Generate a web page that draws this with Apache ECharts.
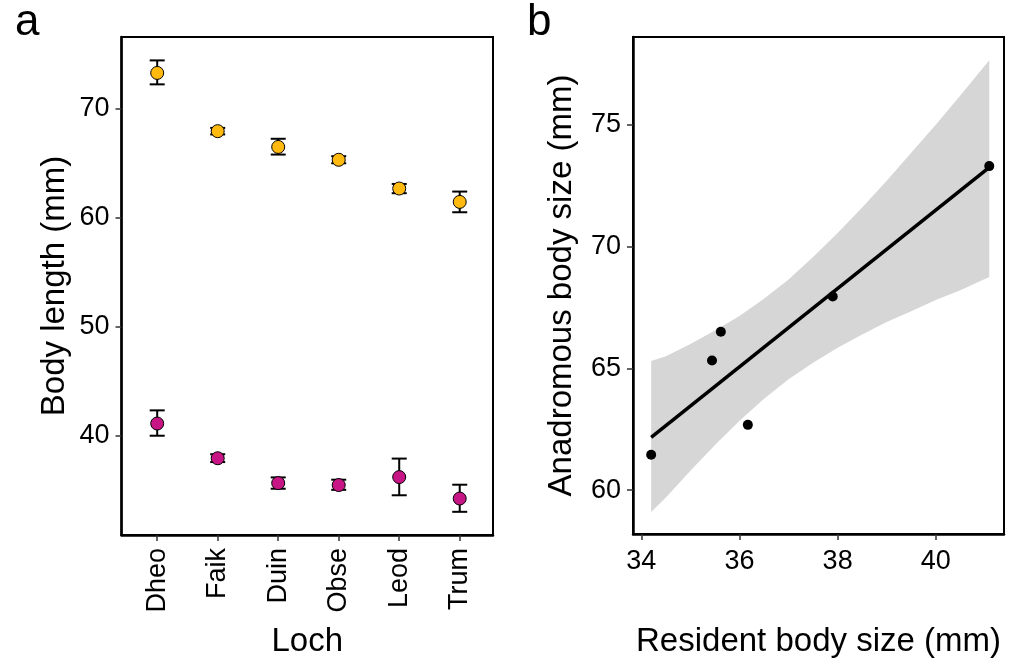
<!DOCTYPE html>
<html>
<head>
<meta charset="utf-8">
<script src="https://cdn.jsdelivr.net/npm/echarts@6/dist/echarts.min.js"></script>
<style>
html,body{margin:0;padding:0;background:#fff;}
#chart{width:1009px;height:663px;}
</style>
</head>
<body>
<div id="chart"></div>
<script>
// ---------- data ----------
const lochs = ['Dheo', 'Faik', 'Duin', 'Obse', 'Leod', 'Trum'];
const lochPos = [1, 2, 3, 4, 5, 6];
// anadromous (orange) means and error bar ends
const anadMean = [73.3, 67.95, 66.5, 65.32, 62.68, 61.45];
const anadLo   = [72.25, 67.65, 65.8, 65.0, 62.25, 60.5];
const anadHi   = [74.45, 68.25, 67.25, 65.65, 63.1, 62.4];
// resident (magenta) means and error bar ends
const resMean = [41.09, 37.9, 35.62, 35.44, 36.17, 34.2];
const resLo   = [39.97, 37.55, 35.1, 35.0, 34.5, 32.98];
const resHi   = [42.3, 38.27, 36.14, 35.93, 37.87, 35.47];
// panel a tick values
const aYTicks = [40, 50, 60, 70];
// panel b: regression line and confidence band
const fitX = [34.2, 41.09];
const fitY = [62.17, 73.25];
const bandX  = [34.2, 34.5, 35, 35.5, 36, 36.5, 37, 37.5, 38, 38.5, 39, 39.5, 40, 40.5, 41.09];
const bandLo = [59.1, 59.7, 60.8, 61.85, 62.85, 63.75, 64.55, 65.23, 65.85, 66.39, 66.9, 67.34, 67.8, 68.2, 68.75];
const bandHi = [65.3, 65.5, 66.0, 66.55, 67.15, 67.86, 68.65, 69.57, 70.55, 71.6, 72.7, 73.85, 75.0, 76.2, 77.65];
const bXTicks = [34, 36, 38, 40];
const bYTicks = [60, 65, 70, 75];

const ORANGE = '#FFB90F';
const MAGENTA = '#C71585';
const FONT = 'Liberation Sans, Arial, sans-serif';

const chart = echarts.init(document.getElementById('chart'), null, {renderer: 'canvas'});

function errRender(params, api) {
  const x = api.value(0), lo = api.value(1), hi = api.value(2);
  const pLo = api.coord([x, lo]);
  const pHi = api.coord([x, hi]);
  const w = 7.5;
  const style = {stroke: '#000', lineWidth: 2};
  return {
    type: 'group',
    children: [
      {type: 'line', shape: {x1: pLo[0], y1: pLo[1], x2: pHi[0], y2: pHi[1]}, style},
      {type: 'line', shape: {x1: pLo[0] - w, y1: pLo[1], x2: pLo[0] + w, y2: pLo[1]}, style},
      {type: 'line', shape: {x1: pHi[0] - w, y1: pHi[1], x2: pHi[0] + w, y2: pHi[1]}, style}
    ]
  };
}

const bandPoly = bandX.map((x, i) => [x, bandHi[i]])
  .concat(bandX.slice().reverse().map((x, i) => [x, bandLo[bandLo.length - 1 - i]]));

const axisCommon = {
  axisLine: {show: true, onZero: false, lineStyle: {color: '#000', width: 2.5}},
  axisTick: {show: true, length: 6, lineStyle: {color: '#333', width: 1.5}},
  splitLine: {show: false},
  axisLabel: {color: '#000', fontSize: 27, fontFamily: FONT, margin: 12},
  nameTextStyle: {color: '#000', fontSize: 33, fontFamily: FONT}
};

const option = {
  backgroundColor: '#fff',
  animation: false,
  textStyle: {fontFamily: FONT},
  title: [
    {text: 'a', left: 10, top: -4, textStyle: {fontSize: 44, fontWeight: 'normal', color: '#000', fontFamily: FONT}},
    {text: 'b', left: 522, top: -4, textStyle: {fontSize: 44, fontWeight: 'normal', color: '#000', fontFamily: FONT}}
  ],
  grid: [
    {left: 121.5, top: 37, width: 371.5, height: 499, show: true, borderColor: '#000', borderWidth: 2, backgroundColor: 'transparent'},
    {left: 633, top: 37, width: 371, height: 499, show: true, borderColor: '#000', borderWidth: 2, backgroundColor: 'transparent'}
  ],
  xAxis: [
    Object.assign({}, axisCommon, {
      type: 'value', gridIndex: 0, min: 0.41, max: 6.55,
      name: 'Loch', nameLocation: 'middle', nameGap: 90,
      axisTick: Object.assign({}, axisCommon.axisTick, {customValues: lochPos}),
      axisLabel: Object.assign({}, axisCommon.axisLabel, {
        customValues: lochPos, rotate: 90, margin: 13,
        formatter: v => lochs[Math.round(v) - 1] || ''
      })
    }),
    Object.assign({}, axisCommon, {
      type: 'value', gridIndex: 1, min: 33.83, max: 41.39,
      name: 'Resident body size (mm)', nameLocation: 'middle', nameGap: 91,
      axisTick: Object.assign({}, axisCommon.axisTick, {customValues: bXTicks}),
      axisLabel: Object.assign({}, axisCommon.axisLabel, {customValues: bXTicks, margin: 14})
    })
  ],
  yAxis: [
    Object.assign({}, axisCommon, {
      type: 'value', gridIndex: 0, min: 30.85, max: 76.6,
      name: 'Body length (mm)', nameLocation: 'middle', nameGap: 50,
      axisTick: Object.assign({}, axisCommon.axisTick, {customValues: aYTicks}),
      axisLabel: Object.assign({}, axisCommon.axisLabel, {customValues: aYTicks})
    }),
    Object.assign({}, axisCommon, {
      type: 'value', gridIndex: 1, min: 58.2, max: 78.6,
      name: 'Anadromous body size (mm)', nameLocation: 'middle', nameGap: 55,
      axisTick: Object.assign({}, axisCommon.axisTick, {customValues: bYTicks}),
      axisLabel: Object.assign({}, axisCommon.axisLabel, {customValues: bYTicks})
    })
  ],
  series: [
    {
      type: 'custom', xAxisIndex: 0, yAxisIndex: 0, z: 2,
      renderItem: errRender,
      data: lochPos.map((x, i) => [x, anadLo[i], anadHi[i]])
    },
    {
      type: 'custom', xAxisIndex: 0, yAxisIndex: 0, z: 2,
      renderItem: errRender,
      data: lochPos.map((x, i) => [x, resLo[i], resHi[i]])
    },
    {
      type: 'scatter', xAxisIndex: 0, yAxisIndex: 0, z: 3,
      symbol: 'circle', symbolSize: 13,
      itemStyle: {color: ORANGE, borderColor: '#000', borderWidth: 1, opacity: 1},
      data: lochPos.map((x, i) => [x, anadMean[i]])
    },
    {
      type: 'scatter', xAxisIndex: 0, yAxisIndex: 0, z: 3,
      symbol: 'circle', symbolSize: 13,
      itemStyle: {color: MAGENTA, borderColor: '#000', borderWidth: 1, opacity: 1},
      data: lochPos.map((x, i) => [x, resMean[i]])
    },
    {
      type: 'custom', xAxisIndex: 1, yAxisIndex: 1, z: 1,
      renderItem: function (params, api) {
        if (params.dataIndex !== 0) return null;
        const pts = bandPoly.map(p => api.coord(p));
        return {type: 'polygon', shape: {points: pts}, style: {fill: '#d6d6d6', stroke: null}};
      },
      data: [[bandX[0], bandLo[0]]]
    },
    {
      type: 'line', xAxisIndex: 1, yAxisIndex: 1, z: 2,
      symbol: 'none', lineStyle: {color: '#000', width: 3.5},
      data: fitX.map((x, i) => [x, fitY[i]])
    },
    {
      type: 'scatter', xAxisIndex: 1, yAxisIndex: 1, z: 3,
      symbol: 'circle', symbolSize: 10,
      itemStyle: {color: '#000', opacity: 1},
      data: resMean.map((x, i) => [x, anadMean[i]])
    }
  ]
};
chart.setOption(option);
</script>
</body>
</html>
